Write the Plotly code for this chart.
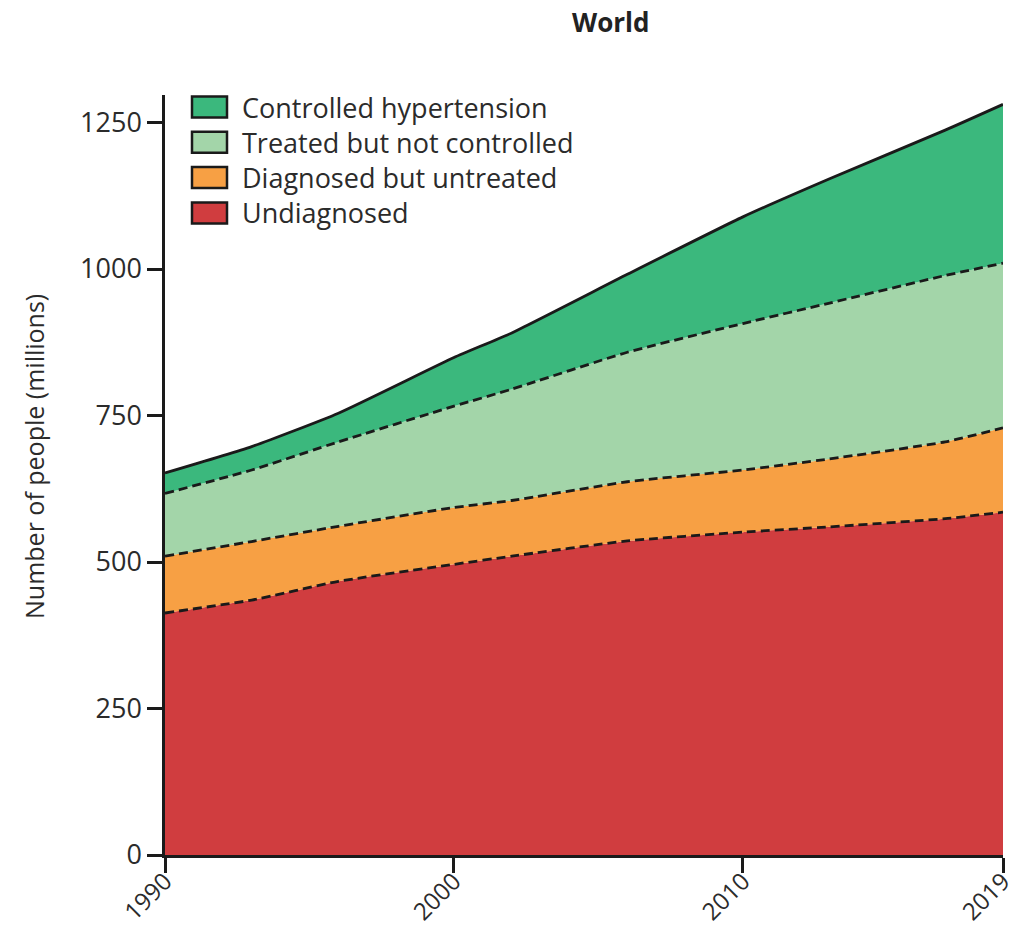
import plotly.graph_objects as go

# Hypertension care cascade, world, number of people (millions)
years = [1990, 1993, 1996, 2000, 2002, 2006, 2010, 2013, 2017, 2019]
undiagnosed = [413, 435, 467, 496, 510, 536, 551, 560, 574, 585]
diagnosed_untreated = [97, 100, 94, 97, 95, 101, 106, 116, 131, 144]
treated_not_controlled = [107, 122, 144, 173, 190, 221, 250, 266, 284, 281]
controlled = [35, 40, 49, 83, 96, 133, 182, 212, 248, 271]

series_names = ["Undiagnosed", "Diagnosed but untreated",
                "Treated but not controlled", "Controlled hypertension"]
series_values = [undiagnosed, diagnosed_untreated, treated_not_controlled, controlled]
series_colors = ["#D03D3F", "#F7A044", "#A3D5A9", "#3BB87D"]
series_dash = ["dash", "dash", "dash", "solid"]

x_ticks = [1990, 2000, 2010, 2019]
y_ticks = [0, 250, 500, 750, 1000, 1250]

FONT = "Open Sans"
TEXT = "#2b2b2b"
LINE = "#1a1a1a"

W, H = 1018, 929
ML, MR, MT, MB = 165, 15, 95, 74
PW, PH = W - ML - MR, H - MT - MB


def px_to_paper(px, py):
    return (px - ML) / PW, (H - MB - py) / PH


fig = go.Figure()
for name, vals, color, dash in zip(series_names, series_values, series_colors, series_dash):
    fig.add_trace(go.Scatter(
        x=years, y=vals, name=name, mode="lines", stackgroup="one",
        fillcolor=color,
        line=dict(color=LINE, width=2.8, shape="spline", smoothing=0.5,
                  dash="9px,5px" if dash == "dash" else "solid"),
        showlegend=False, hoverinfo="x+y+name",
    ))

# Legend drawn as swatches with labels, top item first
legend_items = list(zip(series_names, series_colors))[::-1]
for i, (name, color) in enumerate(legend_items):
    cy = 107 + i * 35.3
    x0, y0 = px_to_paper(192, cy - 10.5)
    x1, y1 = px_to_paper(227, cy + 10.5)
    fig.add_shape(type="rect", xref="paper", yref="paper", x0=x0, x1=x1, y0=y0, y1=y1,
                  fillcolor=color, line=dict(color=LINE, width=2.5), layer="above")
    tx, ty = px_to_paper(240, cy)
    fig.add_annotation(x=tx, y=ty, xref="paper", yref="paper", text=name, showarrow=False,
                       xanchor="left", yanchor="middle",
                       font=dict(family=FONT, size=27, color=TEXT))

# Title and y-axis title
tx, ty = px_to_paper(610, 22)
fig.add_annotation(x=tx, y=ty, xref="paper", yref="paper", text="<b>World</b>",
                   showarrow=False, xanchor="center", yanchor="middle",
                   font=dict(family=FONT, size=26, color="#222"))
ax, ay = px_to_paper(34, 457)
fig.add_annotation(x=ax, y=ay, xref="paper", yref="paper", text="Number of people (millions)",
                   showarrow=False, textangle=-90, xanchor="center", yanchor="middle",
                   font=dict(family=FONT, size=25, color=TEXT))

fig.update_layout(
    width=W, height=H,
    margin=dict(l=ML, r=MR, t=MT, b=MB, pad=0, autoexpand=False),
    paper_bgcolor="white", plot_bgcolor="white",
    font=dict(family=FONT, size=24, color=TEXT),
    showlegend=False,
    xaxis=dict(range=[1990, 2019], tickvals=x_ticks, ticktext=[str(v) for v in x_ticks],
               tickangle=-45, ticks="outside", ticklen=15, tickwidth=2.5, tickcolor=LINE,
               showline=True, linecolor=LINE, linewidth=2.5, showgrid=False, zeroline=False,
               automargin=False, ticklabeloverflow="allow", ticklabelstandoff=-15,
               tickfont=dict(family=FONT, size=24, color=TEXT)),
    yaxis=dict(range=[0, 1297], tickvals=y_ticks, ticks="outside", ticklen=15, tickwidth=2.5,
               tickcolor=LINE, showline=True, linecolor=LINE, linewidth=2.5, showgrid=False,
               zeroline=False, automargin=False,
               tickfont=dict(family=FONT, size=27, color=TEXT)),
)

fig.write_html("out.html")
